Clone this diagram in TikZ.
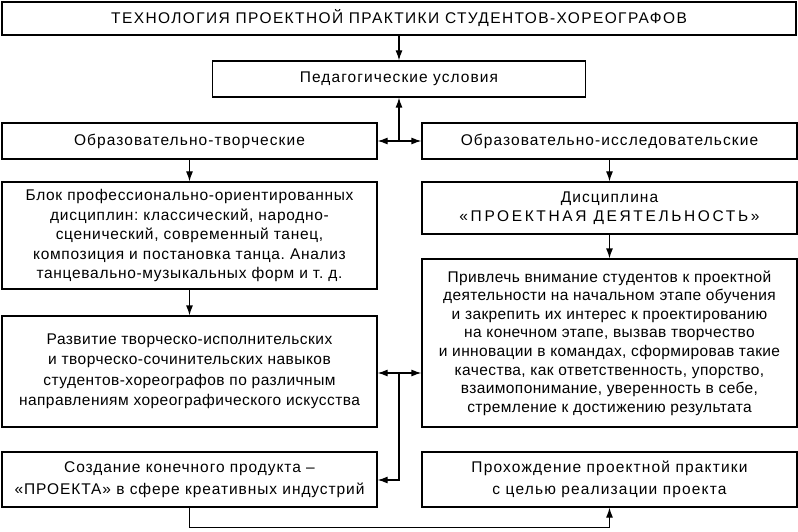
\documentclass[tikz,border=0pt]{standalone}
\usepackage{fontspec}
\setmainfont{Liberation Sans}
\usepackage{xcolor}
\usetikzlibrary{arrows.meta}
\frenchspacing

\newcommand{\boxfont}[2]{\fontsize{15.5}{#2}\selectfont\addfontfeature{LetterSpace=#1}}

\begin{document}
\begin{tikzpicture}[x=1pt, y=-1pt, line width=1.2pt,
        box/.style={draw, rectangle, align=center, inner sep=0pt,
            font=\boxfont{7}{18.3}},
        half/.style={box, minimum width=375pt},
        arr/.style={-{Latex[length=10pt,width=7pt]}}]
    \useasboundingbox (0,0) rectangle (798,532);
    \node[box, minimum width=794pt, minimum height=33pt, font=\boxfont{9}{18}] (title) at (399,18.5)
        {ТЕХНОЛОГИЯ ПРОЕКТНОЙ ПРАКТИКИ СТУДЕНТОВ-ХОРЕОГРАФОВ};
    \node[box, minimum width=373pt, minimum height=36pt] (ped) at (399,79)
        {Педагогические условия};
    \node[half, minimum height=36pt] (tvor) at (189.5,141) {Образовательно-творческие};
    \node[half, minimum height=36pt] (issl) at (609.5,141) {Образовательно-исследовательские};
    \node[half, minimum height=107pt, font=\boxfont{4.5}{19.5}] (blok) at (189.5,235.5)
        {Блок профессионально-ориентированных\\
         дисциплин: классический, народно-\\
         сценический, современный танец,\\
         композиция и постановка танца. Анализ\\
         танцевально-музыкальных форм и т.~д.};
    \node[half, minimum height=52pt, font=\boxfont{7}{18.5}] (disc) at (609.5,208)
        {Дисциплина\\{\addfontfeature{LetterSpace=17}«ПРОЕКТНАЯ ДЕЯТЕЛЬНОСТЬ»}};
    \node[half, minimum height=111pt, font=\boxfont{3}{20.5}] (razv) at (189.5,371.5)
        {Развитие творческо-исполнительских\\
         и творческо-сочинительских навыков\\
         студентов-хореографов по различным\\
         направлениям хореографического искусства};
    \node[half, minimum height=168pt, font=\boxfont{2.5}{18.6}] (priv) at (609.5,343)
        {Привлечь внимание студентов к проектной\\
         деятельности на начальном этапе обучения\\
         и закрепить их интерес к проектированию\\
         на конечном этапе, вызвав творчество\\
         и инновации в командах, сформировав такие\\
         качества, как ответственность, упорство,\\
         взаимопонимание, уверенность в себе,\\
         стремление к достижению результата};
    \node[half, minimum height=55pt, font=\boxfont{6}{21.5}] (sozd) at (189.5,479.5)
        {Создание конечного продукта –\\«ПРОЕКТА» в сфере креативных индустрий};
    \node[half, minimum height=55pt, font=\boxfont{7.5}{21.5}] (proh) at (609.5,479.5)
        {Прохождение проектной практики\\с целью реализации проекта};

    \coordinate (j1) at (399,141);
    \coordinate (j2) at (399,373);
    \coordinate (j3) at (399,480);

    \draw[arr] (title) -- (ped);
    \draw[arr] (j1) -- (ped);
    \draw[arr] (j1) -- (tvor);
    \draw[arr] (j1) -- (issl);
    \draw[arr] (tvor) -- (blok);
    \draw[arr] (issl) -- (disc);
    \draw[arr] (blok) -- (razv);
    \draw[arr] (disc) -- (priv);
    \draw[arr] (j2) -- (j2 -| razv.east);
    \draw[arr] (j2) -- (j2 -| priv.west);
    \draw[arr] (j2) -- (j3) -- (j3 -| sozd.east);
    \draw[arr] (sozd.south) -- ++(0,20) -| (proh.south);
\end{tikzpicture}
\end{document}
